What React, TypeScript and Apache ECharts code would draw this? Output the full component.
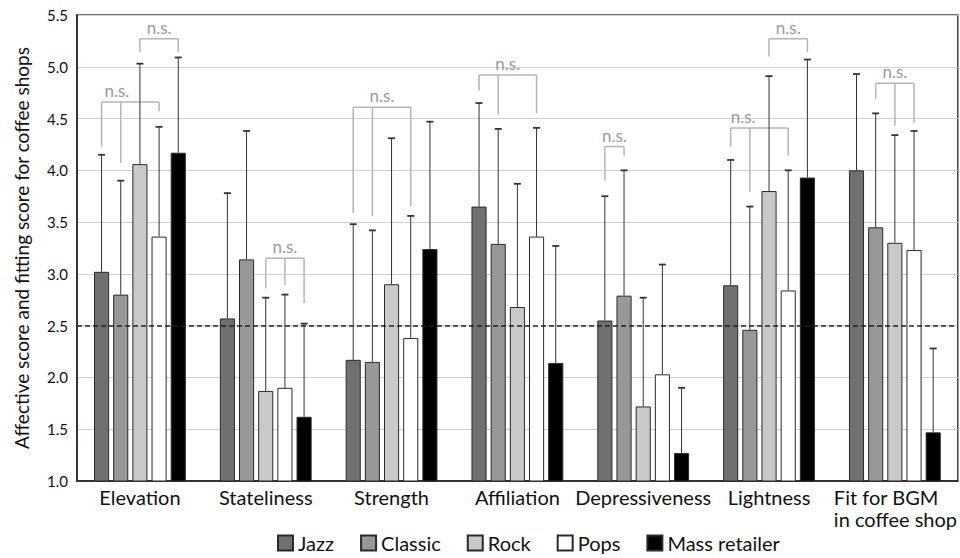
import React, { useEffect, useRef } from "react";
import * as echarts from "echarts";

const categories = [
  "Elevation",
  "Stateliness",
  "Strength",
  "Affiliation",
  "Depressiveness",
  "Lightness",
  "Fit for BGM\nin coffee shop",
];
const seriesNames = ["Jazz", "Classic", "Rock", "Pops", "Mass retailer"];
const seriesColors = ["#707070", "#989898", "#c9c9c9", "#ffffff", "#000000"];

const jazz = [3.02, 2.57, 2.17, 3.65, 2.55, 2.89, 4.0];
const classic = [2.8, 3.14, 2.15, 3.29, 2.79, 2.46, 3.45];
const rock = [4.06, 1.87, 2.9, 2.68, 1.72, 3.8, 3.3];
const pops = [3.36, 1.9, 2.38, 3.36, 2.03, 2.84, 3.23];
const mass = [4.17, 1.62, 3.24, 2.14, 1.27, 3.93, 1.47];

const jazzUpper = [4.15, 3.78, 3.48, 4.65, 3.75, 4.1, 4.93];
const classicUpper = [3.9, 4.38, 3.42, 4.4, 4.0, 3.65, 4.55];
const rockUpper = [5.03, 2.77, 4.31, 3.87, 2.77, 4.91, 4.34];
const popsUpper = [4.42, 2.8, 3.56, 4.41, 3.09, 4.0, 4.38];
const massUpper = [5.09, 2.52, 4.47, 3.27, 1.9, 5.07, 2.28];

const means = [jazz, classic, rock, pops, mass];
const uppers = [jazzUpper, classicUpper, rockUpper, popsUpper, massUpper];

// n.s. brackets: category, level of the bar, legs [series index, leg bottom], text position (series index units)
const bracketCats = [0, 0, 1, 2, 3, 4, 5, 5, 6];
const bracketTops = [4.66, 5.27, 3.15, 4.61, 4.92, 4.23, 4.41, 5.27, 4.84];
const bracketLegs = [
  [[0, 4.23], [1, 4.07], [3, 4.57]],
  [[2, 5.14], [4, 5.14]],
  [[2, 2.86], [3, 2.89], [4, 2.72]],
  [[0, 3.59], [1, 3.56], [3, 3.65]],
  [[0, 4.77], [1, 4.54], [3, 4.55]],
  [[0, 3.9], [1, 4.14]],
  [[0, 4.23], [1, 3.79], [3, 4.14]],
  [[2, 5.1], [4, 5.14]],
  [[1, 4.69], [2, 4.43], [3, 4.46]],
];
const bracketTextPos = [0.8, 3, 3, 1.5, 1.5, 0.5, 0.65, 3, 2];

const referenceLine = 2.5;

const FONT = "Lato";
const BAR_W = 0.12;
const BAR_GAP = 0.27;

function barOffset(api: any, s: number) {
  const band = api.size([1, 0])[0];
  const bw = band * BAR_W;
  const gap = bw * BAR_GAP;
  return (s - 2) * (bw + gap);
}

export default function App() {
  const ref = useRef<HTMLDivElement>(null);
  useEffect(() => {
    if (!ref.current) return;
    const chart = echarts.init(ref.current, undefined, { renderer: "svg" });

    const barSeries: any[] = seriesNames.map((name, i) => ({
      name,
      type: "bar",
      data: means[i],
      barWidth: "12%",
      barGap: "27%",
      itemStyle: { color: seriesColors[i], borderColor: "#2a2a2a", borderWidth: 1 },
      z: 2,
      ...(i === 0
        ? {
            markLine: {
              silent: true,
              symbol: ["none", "none"],
              label: { show: false },
              lineStyle: { color: "#222", type: [5, 3], width: 1.5 },
              data: [{ yAxis: referenceLine }],
            },
          }
        : {}),
    }));

    const errData: any[] = [];
    means.forEach((arr, s) => {
      arr.forEach((v, c) => errData.push([c, s, v, uppers[s][c]]));
    });

    const errorSeries = {
      type: "custom",
      name: "err",
      data: errData,
      encode: { x: 0, y: [2, 3] },
      z: 5,
      silent: true,
      renderItem: (params: any, api: any) => {
        const c = api.value(0);
        const s = api.value(1);
        const lo = api.coord([c, api.value(2)]);
        const hi = api.coord([c, api.value(3)]);
        const x = lo[0] + barOffset(api, s);
        return {
          type: "group",
          children: [
            { type: "line", shape: { x1: x, y1: lo[1], x2: x, y2: hi[1] }, style: { stroke: "#333", lineWidth: 1 } },
            { type: "line", shape: { x1: x - 3.5, y1: hi[1], x2: x + 3.5, y2: hi[1] }, style: { stroke: "#333", lineWidth: 1.8 } },
          ],
        };
      },
    };

    const bracketSeries = {
      type: "custom",
      name: "ns",
      data: bracketCats.map((c, i) => [c, bracketTops[i], i]),
      encode: { x: 0, y: 1 },
      z: 4,
      silent: true,
      renderItem: (params: any, api: any) => {
        const c = api.value(0);
        const top = api.value(1);
        const idx = params.dataIndex;
        const legs = bracketLegs[idx];
        const base = api.coord([c, top]);
        const y = base[1];
        const xs = legs.map((l) => base[0] + barOffset(api, l[0]));
        const children: any[] = [
          {
            type: "line",
            shape: { x1: Math.min(...xs), y1: y, x2: Math.max(...xs), y2: y },
            style: { stroke: "#b4b4b4", lineWidth: 1.5 },
          },
        ];
        legs.forEach((l, k) => {
          const yb = api.coord([c, l[1]])[1];
          children.push({
            type: "line",
            shape: { x1: xs[k], y1: y, x2: xs[k], y2: yb },
            style: { stroke: "#b4b4b4", lineWidth: 1.5 },
          });
        });
        children.push({
          type: "text",
          x: base[0] + barOffset(api, bracketTextPos[idx]),
          y: y - 3,
          style: {
            text: "n.s.",
            fill: "#9a9a9a",
            font: `17px ${FONT}`,
            textAlign: "center",
            textVerticalAlign: "bottom",
          },
        });
        return { type: "group", children };
      },
    };

    chart.setOption({
      animation: false,
      backgroundColor: "#ffffff",
      textStyle: { fontFamily: FONT },
      grid: {
        left: 77,
        right: 2,
        top: 15,
        bottom: 77,
        show: true,
        borderColor: "#444",
        borderWidth: 1.5,
      },
      legend: {
        data: seriesNames,
        left: 272,
        top: 528,
        itemWidth: 15,
        itemHeight: 15,
        itemGap: 26,
        textStyle: { fontSize: 20, color: "#111", fontFamily: FONT },
        icon: "rect",
      },
      xAxis: {
        type: "category",
        data: categories,
        axisLine: { lineStyle: { color: "#333", width: 2 } },
        axisTick: { show: false },
        axisLabel: {
          interval: 0,
          fontSize: 20,
          color: "#111",
          margin: 5,
          lineHeight: 22,
          fontFamily: FONT,
          formatter: (v: string) => {
            const parts = v.split("\n");
            if (parts.length === 1) return v;
            return parts.map((p) => `{l|${p}}`).join("\n");
          },
          rich: {
            l: { fontSize: 20, fontFamily: FONT, color: "#111", width: 122, align: "left", lineHeight: 22 },
          },
        },
      },
      yAxis: {
        type: "value",
        min: 1,
        max: 5.5,
        interval: 0.5,
        name: "Affective score and fitting score for coffee shops",
        nameLocation: "middle",
        nameGap: 46,
        nameTextStyle: { fontSize: 19, color: "#111", fontFamily: FONT },
        axisLine: { show: true, lineStyle: { color: "#333", width: 2 } },
        axisTick: { show: false },
        axisLabel: {
          fontSize: 15,
          color: "#111",
          margin: 9,
          formatter: (v: number) => v.toFixed(1),
          fontFamily: FONT,
        },
        splitLine: { lineStyle: { color: "#cfcfcf", width: 1 } },
      },
      series: [...barSeries, errorSeries, bracketSeries],
    });
    return () => chart.dispose();
  }, []);

  return (
    <div
      ref={ref}
      style={{ position: "fixed", left: 0, top: 0, width: 960, height: 558, background: "#fff" }}
    />
  );
}
